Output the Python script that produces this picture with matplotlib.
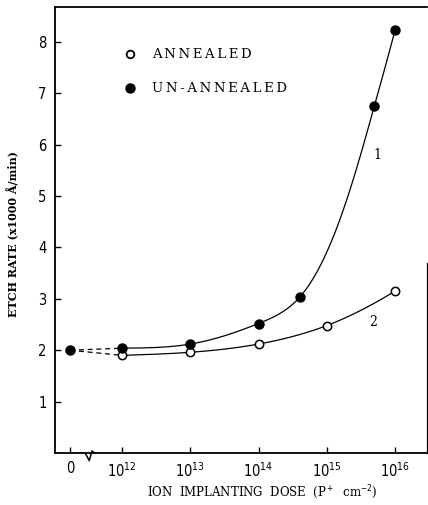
import matplotlib.pyplot as plt
import numpy as np

plt.rcParams['font.family'] = ['DejaVu Sans']
plt.rcParams['font.stretch'] = 'condensed'
plt.rcParams['mathtext.fontset'] = 'custom'
plt.rcParams['mathtext.rm'] = 'DejaVu Sans:stretch=condensed'
plt.rcParams['mathtext.it'] = 'DejaVu Sans:stretch=condensed'

# dose in P+/cm^2 (0 = unimplanted)
dose_annealed = [0, 1e12, 1e13, 1e14, 1e15, 1e16]
rate_annealed = [2.0, 1.9, 1.96, 2.12, 2.48, 3.15]
dose_unannealed = [0, 1e12, 1e13, 1e14, 4e14, 5e15, 1e16]
rate_unannealed = [2.0, 2.04, 2.12, 2.52, 3.03, 6.76, 8.23]

xtick_doses = [0, 1e12, 1e13, 1e14, 1e15, 1e16]
xtick_labels = ['0', '10$^{12}$', '10$^{13}$', '10$^{14}$', '10$^{15}$', '10$^{16}$']

ZERO_POS = 11.24  # where dose 0 sits on the log axis


def pos(d):
    d = np.asarray(d, dtype=float)
    out = np.full(d.shape, ZERO_POS)
    nz = d > 0
    out[nz] = np.log10(d[nz])
    return out


def spline(x, y, n=300):
    # natural cubic spline through the points, done on log(rate) so it stays smooth
    x = np.asarray(x, float); y = np.log(np.asarray(y, float))
    k = len(x); h = np.diff(x)
    A = np.zeros((k, k)); b = np.zeros(k)
    A[0, 0] = A[-1, -1] = 1
    for i in range(1, k - 1):
        A[i, i - 1] = h[i - 1]; A[i, i] = 2 * (h[i - 1] + h[i]); A[i, i + 1] = h[i]
        b[i] = 6 * ((y[i + 1] - y[i]) / h[i] - (y[i] - y[i - 1]) / h[i - 1])
    M = np.linalg.solve(A, b)
    xs = np.linspace(x[0], x[-1], n)
    j = np.clip(np.searchsorted(x, xs) - 1, 0, k - 2)
    t1 = x[j + 1] - xs; t0 = xs - x[j]
    ys = (M[j] * t1**3 + M[j + 1] * t0**3) / (6 * h[j]) \
        + (y[j] / h[j] - M[j] * h[j] / 6) * t1 + (y[j + 1] / h[j] - M[j + 1] * h[j] / 6) * t0
    return xs, np.exp(ys)


fig = plt.figure(figsize=(4.28, 5.05), dpi=100)
ax = fig.add_axes([0.1285, 0.103, 0.8692, 0.883])

xa = pos(dose_annealed); ya = np.array(rate_annealed)
xu = pos(dose_unannealed); yu = np.array(rate_unannealed)

# dashed segment from the unimplanted point
ax.plot(xa[:2], ya[:2], c='k', lw=0.9, ls=(0, (4, 3)))
ax.plot(xu[:2], yu[:2], c='k', lw=0.9, ls=(0, (4, 3)))

sx, sy = spline(xa[1:], ya[1:])
ax.plot(sx, sy, c='k', lw=0.9)
sx, sy = spline(xu[1:], yu[1:])
ax.plot(sx, sy, c='k', lw=0.9)

ax.plot(xa[1:], ya[1:], 'o', ms=6, mfc='white', mec='k', mew=1.1, zorder=3)
ax.plot(xu, yu, 'o', ms=6.5, mfc='k', mec='k', zorder=4)

ax.text(15.74, 5.8, '1', fontsize=10, family='DejaVu Serif', ha='center', va='center')
ax.text(15.68, 2.55, '2', fontsize=10, family='DejaVu Serif', ha='center', va='center')

# legend
ax.plot([12.12], [7.76], 'o', ms=5.5, mfc='white', mec='k', mew=1.3)
ax.plot([12.12], [7.10], 'o', ms=6.5, mfc='k', mec='k')
ax.text(12.44, 7.76, '\u2009'.join('ANNEALED'), fontsize=9.5, family='DejaVu Serif',
        stretch='normal', va='center', ha='left')
ax.text(12.44, 7.10, '\u2009'.join('UN-ANNEALED'), fontsize=9.5, family='DejaVu Serif',
        stretch='normal', va='center', ha='left')

ax.set_xlim(11.018, 16.469)
ax.set_ylim(0, 8.68)
ax.set_xticks(pos(xtick_doses))
ax.set_xticklabels(xtick_labels)
ax.set_yticks([1, 2, 3, 4, 5, 6, 7, 8])
ax.tick_params(direction='in', length=4, width=1, labelsize=10.5, pad=6)

for s in ['left', 'bottom', 'top']:
    ax.spines[s].set_linewidth(1.3)
ax.spines['right'].set_linewidth(0.9)
ax.spines['right'].set_bounds(0, 3.7)

# axis break on the dose axis
ax.plot([11.46, 11.52, 11.56, 11.6], [0.0, -0.15, 0.04, 0.0], c='k', lw=1.1,
        clip_on=False)

ax.set_ylabel('ETCH RATE (x1000 \u00c5/min)', family='DejaVu Serif', fontweight='bold',
              stretch='normal', fontsize=8, labelpad=10)
ax.yaxis.set_label_coords(-0.095, 0.49)
fig.text(0.612, 0.025, 'ION  IMPLANTING  DOSE  (P$^+$  cm$^{-2}$)', family='DejaVu Serif',
         stretch='normal', fontsize=8.5, ha='center', va='center')

fig.savefig('out.png', dpi=100)
